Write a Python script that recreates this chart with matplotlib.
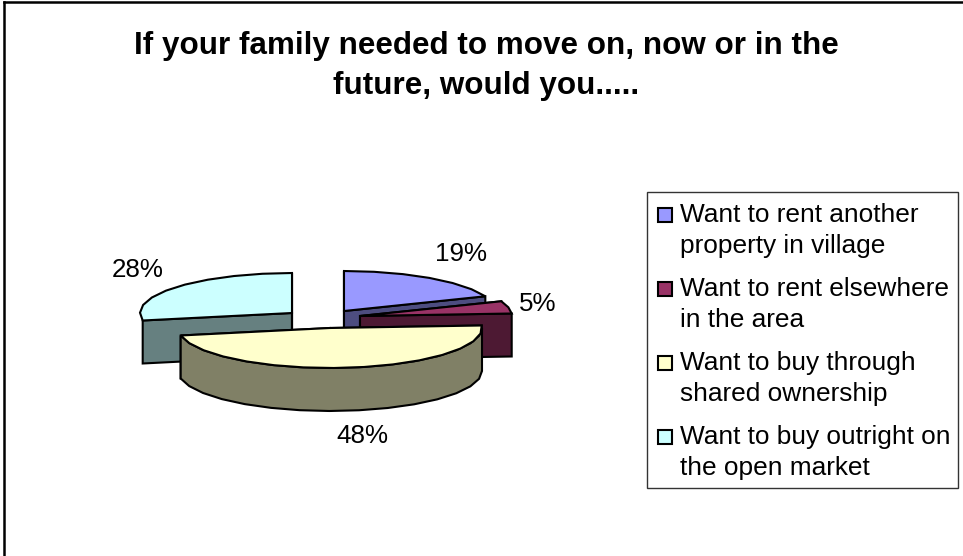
import numpy as np
import matplotlib
matplotlib.use("Agg")
import matplotlib.pyplot as plt
from matplotlib.patches import Polygon, Rectangle

plt.rcParams['font.family'] = ['Liberation Sans', 'DejaVu Sans']

title = "If your family needed to move on, now or in the\nfuture, would you....."
labels = ["Want to rent another\nproperty in village",
          "Want to rent elsewhere\nin the area",
          "Want to buy through\nshared ownership",
          "Want to buy outright on\nthe open market"]
values = [19, 5, 48, 28]
top_colors = ["#9999FF", "#993366", "#FFFFCC", "#CCFFFF"]
side_colors = ["#4D4D80", "#4D1933", "#808066", "#668080"]

# pixel layout of the exploded slices
centers = [(344, 311), (360, 316), (330, 328), (292, 313)]
label_pos = [(461, 261), (538, 311), (362, 443), (138, 277)]
rx, ry, depth = 152, 40, 43

W, H = 963, 556
fig = plt.figure(figsize=(W / 100, H / 100), dpi=100)
ax = fig.add_axes([0, 0, 1, 1])
ax.set_xlim(0, W)
ax.set_ylim(H, 0)
ax.axis("off")

# chart frame, only left and top edges fall inside the picture
ax.plot([4, 4], [H + 5, 1.5], color="black", lw=1.8, solid_capstyle="projecting")
ax.plot([4, W + 5], [1.5, 1.5], color="black", lw=1.8)


def rim(c, a0, a1):
    # angles clockwise from 12 o'clock
    n = max(int((a1 - a0) / 11), 2)
    t = np.radians(np.linspace(a0, a1, n + 1))
    return np.column_stack([c[0] + rx * np.sin(t), c[1] - ry * np.cos(t)])


def draw_slice(i, a0, a1):
    c = centers[i]
    arc = rim(c, a0, a1)
    down = np.array([0, depth])
    kw = dict(ec="black", lw=1.5, joinstyle="miter")
    # cut faces
    for p in (arc[0], arc[-1]):
        face = [c, p, p + down, np.array(c) + down]
        ax.add_patch(Polygon(face, fc=side_colors[i], **kw))
    # outer wall, only when a real part of it faces the viewer
    lo, hi = max(a0, 90), min(a1, 270)
    if hi - lo > 30:
        wall = rim(c, lo, hi)
        ax.add_patch(Polygon(np.vstack([wall, wall[::-1] + down]), fc=side_colors[i], **kw))
    ax.add_patch(Polygon(np.vstack([[c], arc]), fc=top_colors[i], **kw))


ends = np.cumsum(values) / np.sum(values) * 360
starts = np.concatenate([[0], ends[:-1]])
for i in [0, 1, 3, 2]:
    draw_slice(i, starts[i], ends[i])

for v, (x, y) in zip(values, label_pos):
    ax.text(x, y, f"{v}%", fontsize=18.7, ha="center", va="baseline", color="black")

ax.text(486, 94, title, fontsize=22.6, fontweight="bold", ha="center", va="baseline",
        linespacing=1.42)

# legend
ax.add_patch(Rectangle((647, 192), 311, 296, fc="white", ec="#333333", lw=1))
rows = [253, 327, 401, 475]
for lab, col, y in zip(labels, top_colors, rows):
    ax.add_patch(Rectangle((657.5, y - 45), 14, 14, fc=col, ec="black", lw=1.5))
    ax.text(680, y, lab, fontsize=18.9, ha="left", va="baseline", linespacing=1.38)

fig.savefig("out.png", dpi=100)
